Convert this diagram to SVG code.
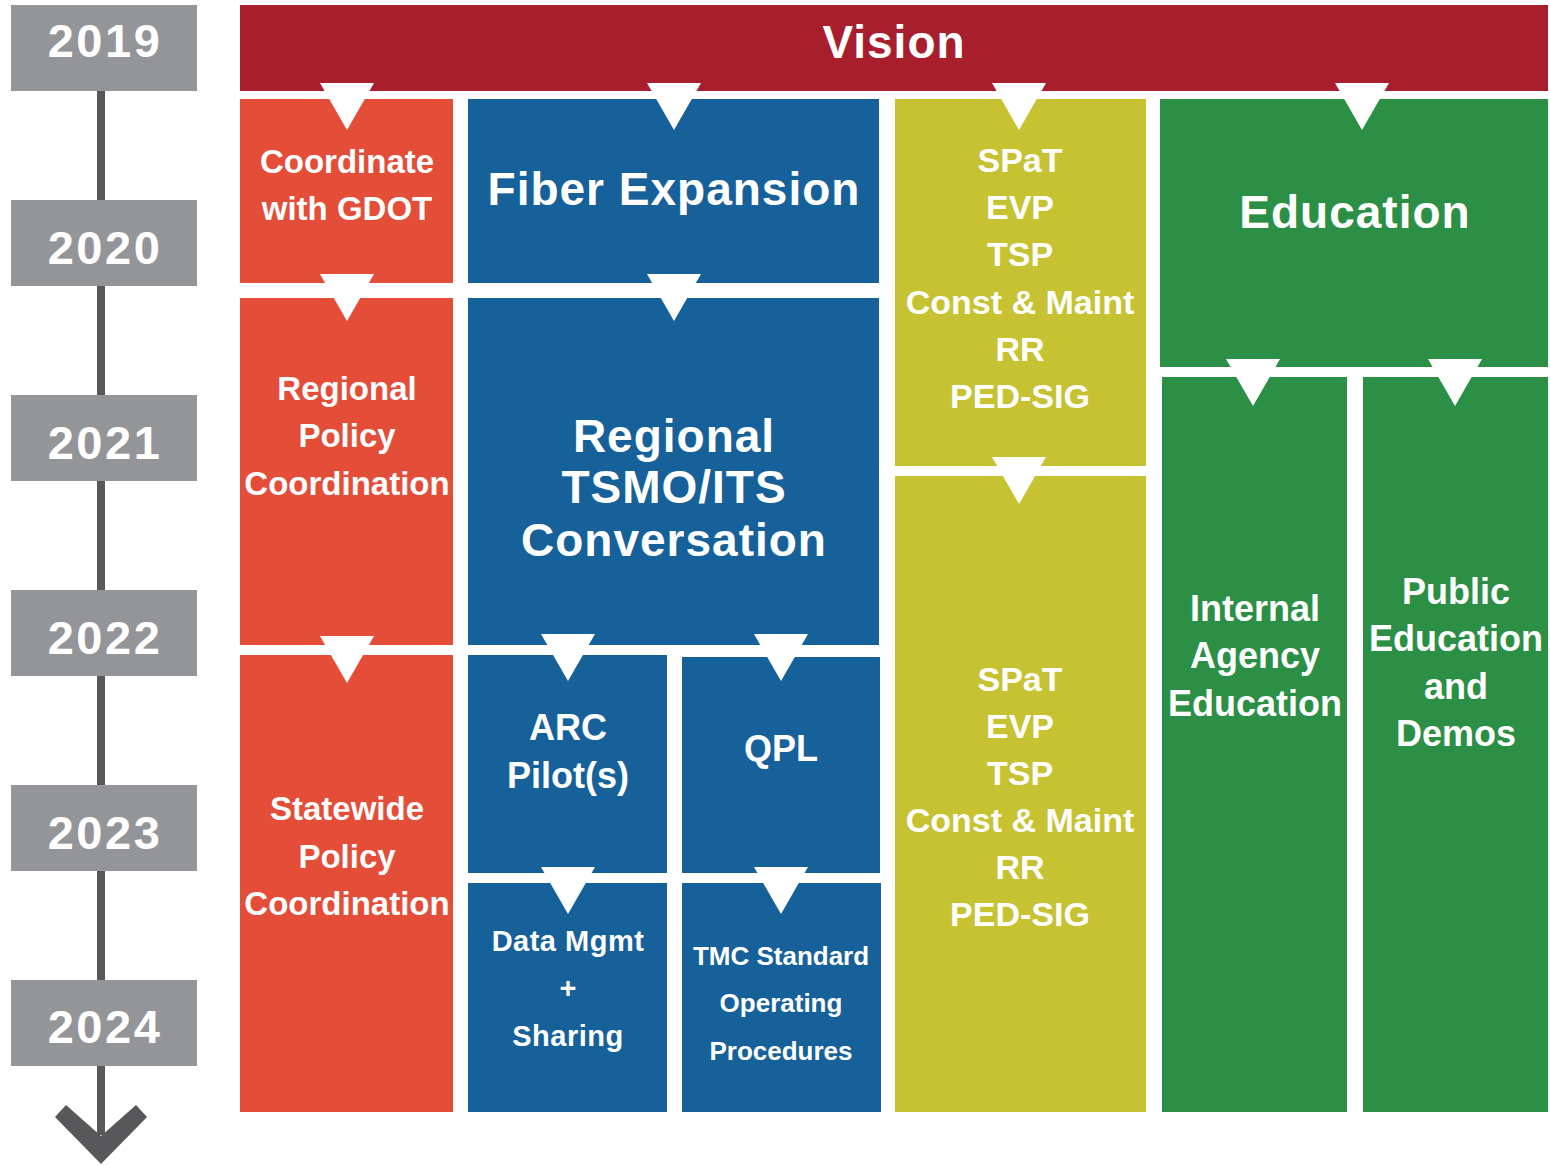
<svg xmlns="http://www.w3.org/2000/svg" width="1550" height="1165" viewBox="0 0 1550 1165">
<style>
text{font-family:"Liberation Sans",Arial,sans-serif;font-weight:bold;fill:#fff;text-anchor:middle}
.yr{font-size:47px;letter-spacing:2.5px}
.big{font-size:46px;letter-spacing:1px}
.md{font-size:33px;letter-spacing:0px}
.yl{font-size:34px}
.gr{font-size:36px}
.red{fill:#a81e2d}
.org{fill:#e44d38}
.blu{fill:#17619a}
.ylw{fill:#c6c232}
.grn{fill:#2b8f45}
.yb{fill:#939598}
.tri{fill:#fff}
</style>
<defs>
<polygon id="tri" points="-27,0 27,0 0,47"/>
</defs>
<rect width="1550" height="1165" fill="#fff"/>
<g id="timeline">
<rect x="97" y="60" width="8" height="1075" fill="#58585a"/>
<polygon points="55,1117 66,1105 101,1136 136,1105 147,1117 101,1164" fill="#58585a"/>
<g id="y2019"><rect class="yb" x="11" y="5" width="186" height="86"/><text class="yr" x="105" y="57">2019</text></g>
<g id="y2020"><rect class="yb" x="11" y="200" width="186" height="86"/><text class="yr" x="105" y="264">2020</text></g>
<g id="y2021"><rect class="yb" x="11" y="395" width="186" height="86"/><text class="yr" x="105" y="459">2021</text></g>
<g id="y2022"><rect class="yb" x="11" y="590" width="186" height="86"/><text class="yr" x="105" y="654">2022</text></g>
<g id="y2023"><rect class="yb" x="11" y="785" width="186" height="86"/><text class="yr" x="105" y="849">2023</text></g>
<g id="y2024"><rect class="yb" x="11" y="980" width="186" height="86"/><text class="yr" x="105" y="1043">2024</text></g>
</g>
<g id="vision"><rect class="red" x="240" y="5" width="1308" height="86"/><text class="big" x="894" y="58">Vision</text></g>
<g id="coord"><rect class="org" x="240" y="99" width="213" height="184"/><text class="md" x="347" y="173">Coordinate</text><text class="md" x="347" y="220">with GDOT</text></g>
<g id="regpol"><rect class="org" x="240" y="298" width="213" height="347"/><text class="md" x="347" y="400">Regional</text><text class="md" x="347" y="447">Policy</text><text class="md" x="347" y="495">Coordination</text></g>
<g id="statepol"><rect class="org" x="240" y="655" width="213" height="457"/><text class="md" x="347" y="820">Statewide</text><text class="md" x="347" y="868">Policy</text><text class="md" x="347" y="915">Coordination</text></g>
<g id="fiber"><rect class="blu" x="468" y="99" width="411" height="184"/><text class="big" x="674" y="205">Fiber Expansion</text></g>
<g id="tsmo"><rect class="blu" x="468" y="298" width="411" height="347"/><text class="big" x="674" y="452">Regional</text><text class="big" x="674" y="503">TSMO/ITS</text><text class="big" x="674" y="556">Conversation</text></g>
<g id="arc"><rect class="blu" x="468" y="655" width="199" height="218"/><text class="gr" x="568" y="740">ARC</text><text class="gr" x="568" y="788">Pilot(s)</text></g>
<g id="qpl"><rect class="blu" x="682" y="657" width="198" height="216"/><text class="gr" x="781" y="761">QPL</text></g>
<g id="data"><rect class="blu" x="468" y="883" width="199" height="229"/><text x="568" y="951" style="font-size:29px;letter-spacing:0.5px">Data Mgmt</text><text x="568" y="998" style="font-size:29px">+</text><text x="568" y="1046" style="font-size:29px;letter-spacing:0.5px">Sharing</text></g>
<g id="tmc"><rect class="blu" x="682" y="883" width="199" height="229"/><text x="781" y="965" style="font-size:26px">TMC Standard</text><text x="781" y="1012" style="font-size:26px">Operating</text><text x="781" y="1060" style="font-size:26px">Procedures</text></g>
<g id="spat1"><rect class="ylw" x="895" y="99" width="251" height="367"/><text class="yl" x="1020" y="172">SPaT</text><text class="yl" x="1020" y="219">EVP</text><text class="yl" x="1020" y="266">TSP</text><text class="yl" x="1020" y="314">Const &amp; Maint</text><text class="yl" x="1020" y="361">RR</text><text class="yl" x="1020" y="408">PED-SIG</text></g>
<g id="spat2"><rect class="ylw" x="895" y="476" width="251" height="636"/><text class="yl" x="1020" y="691">SPaT</text><text class="yl" x="1020" y="738">EVP</text><text class="yl" x="1020" y="785">TSP</text><text class="yl" x="1020" y="832">Const &amp; Maint</text><text class="yl" x="1020" y="879">RR</text><text class="yl" x="1020" y="926">PED-SIG</text></g>
<g id="edu"><rect class="grn" x="1160" y="99" width="388" height="268"/><text class="big" x="1355" y="228">Education</text></g>
<g id="internal"><rect class="grn" x="1162" y="377" width="185" height="735"/><text class="gr" x="1255" y="621">Internal</text><text class="gr" x="1255" y="668">Agency</text><text class="gr" x="1255" y="716">Education</text></g>
<g id="public"><rect class="grn" x="1363" y="377" width="185" height="735"/><text class="gr" x="1456" y="604">Public</text><text class="gr" x="1456" y="651">Education</text><text class="gr" x="1456" y="699">and</text><text class="gr" x="1456" y="746">Demos</text></g>
<g id="connectors" class="tri">
<use href="#tri" x="347" y="83"/>
<use href="#tri" x="674" y="83"/>
<use href="#tri" x="1019" y="83"/>
<use href="#tri" x="1362" y="83"/>
<use href="#tri" x="347" y="274"/>
<use href="#tri" x="674" y="274"/>
<use href="#tri" x="347" y="636"/>
<use href="#tri" x="568" y="634"/>
<use href="#tri" x="781" y="634"/>
<use href="#tri" x="568" y="867"/>
<use href="#tri" x="781" y="867"/>
<use href="#tri" x="1019" y="457"/>
<use href="#tri" x="1253" y="359"/>
<use href="#tri" x="1455" y="359"/>
</g>
</svg>
